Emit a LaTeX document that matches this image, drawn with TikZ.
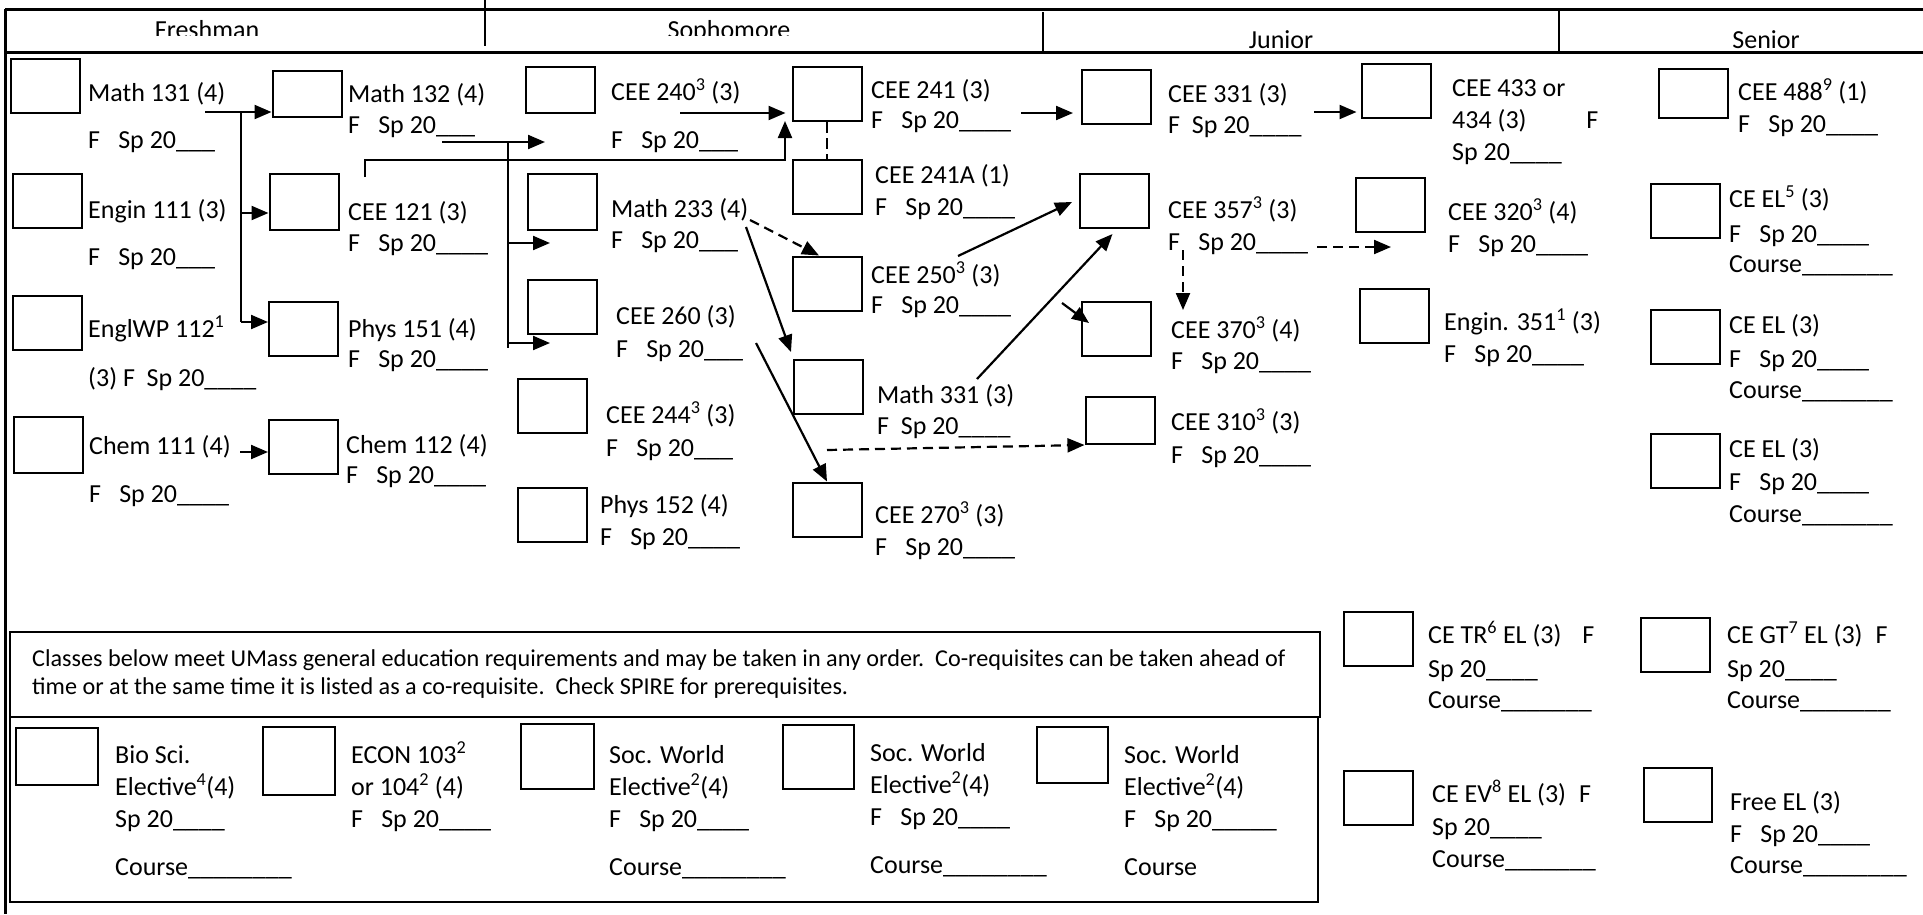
\documentclass[tikz,border=0pt]{standalone}
\usepackage{fontspec}
\setmainfont{Carlito}
\usetikzlibrary{arrows.meta}

\newcommand\crsfont{\fontsize{26}{32}\selectfont}
\newcommand\fsp{F\hspace{0.7em}Sp 20}
\newcommand\fspp{F\hspace{0.45em}Sp 20}

\begin{document}
\begin{tikzpicture}[
  x=1pt, y=-1pt,
  font=\crsfont,
  chk/.style={draw, line width=2pt, minimum width=69pt, minimum height=54pt, inner sep=0pt},
  crs/.style={anchor=base west, align=left, inner sep=0pt},
  arr/.style={-{Triangle[length=17pt,width=14pt]}, line width=2.2pt},
  dsh/.style={arr, dash pattern=on 10pt off 6pt}
]
\useasboundingbox (0,0) rectangle (1923,914);

% Header
\draw[line width=3pt] (5,9) -- (1923,9);
\draw[line width=3pt] (5,52) -- (1923,52);
\draw[line width=3pt] (5,9) -- (5,914);
\draw[line width=2.5pt] (485,0) -- (485,46);
\draw[line width=2.5pt] (1043,12) -- (1043,53);
\draw[line width=2.5pt] (1559,10) -- (1559,52);
\begin{scope}
  \clip (0,0) rectangle (1043,35);
  \node[anchor=base, inner sep=0pt] (hfr) at (207,38) {Freshman};
  \node[anchor=base, inner sep=0pt] (hso) at (729,38) {Sophomore};
\end{scope}
\node[anchor=base, inner sep=0pt] (hjr) at (1281,48) {Junior};
\node[anchor=base, inner sep=0pt] (hsr) at (1766,48) {Senior};

% Freshman (text nodes sit on their last baseline)
\node[chk] (b131) at (45.5,86) {};
\node[crs] (t131) at (88,148) {Math 131 (4)\\[15pt]\fsp\_\_\_};
\node[chk] (b111) at (47,201) {};
\node[crs] (t111) at (88,265) {Engin 111 (3)\\[15pt]\fsp\_\_\_};
\node[chk] (bwp) at (47,322.5) {};
\node[crs] (twp) at (88,386) {EnglWP 112\textsuperscript{1}\\[17pt](3) \fspp\_\_\_\_};
\node[chk, minimum height=56pt] (bch1) at (48.5,445) {};
\node[crs] (tch1) at (89,502) {Chem 111 (4)\\[16pt]\fsp\_\_\_\_};

\node[chk, minimum height=46pt] (b132) at (307,94) {};
\node[crs] (t132) at (348,133) {Math 132 (4)\\[-1pt]\fsp\_\_\_};
\node[chk, minimum height=56pt] (b121) at (304,202) {};
\node[crs] (t121) at (348,251) {CEE 121 (3)\\[-1pt]\fsp\_\_\_\_};
\node[chk] (bp151) at (303.5,328.5) {};
\node[crs] (tp151) at (348,367) {Phys 151 (4)\\[-2pt]\fsp\_\_\_\_};
\node[chk] (bch2) at (303.5,446.5) {};
\node[crs] (tch2) at (346,483) {Chem 112 (4)\\[-2pt]\fsp\_\_\_\_};

% Sophomore
\node[chk, minimum height=46pt] (b240) at (560.5,90) {};
\node[crs] (t240) at (611,148) {CEE 240\textsuperscript{3} (3)\\[16pt]\fsp\_\_\_};
\node[chk, minimum height=56pt] (b233) at (562.5,202) {};
\node[crs] (t233) at (611,248) {Math 233 (4)\\[-1pt]\fsp\_\_\_};
\node[chk] (b260) at (562.5,306.5) {};
\node[crs] (t260) at (616,357) {CEE 260 (3)\\[1pt]\fsp\_\_\_};
\node[chk] (b244) at (552.5,406) {};
\node[crs] (t244) at (606,456) {CEE 244\textsuperscript{3} (3)\\[1pt]\fsp\_\_\_};
\node[chk] (bp152) at (552.5,514.5) {};
\node[crs] (tp152) at (600,545) {Phys 152 (4)\\\fsp\_\_\_\_};

\node[chk] (b241) at (827,94) {};
\node[crs] (t241) at (871,128) {CEE 241 (3)\\[-2pt]\fsp\_\_\_\_};
\node[chk] (b241a) at (827,187) {};
\node[crs] (t241a) at (875,215) {CEE 241A (1)\\\fsp\_\_\_\_};
\node[chk] (b250) at (827,283.5) {};
\node[crs] (t250) at (871,313) {CEE 250\textsuperscript{3} (3)\\[-2pt]\fsp\_\_\_\_};
\node[chk] (bm331) at (828.5,387) {};
\node[crs] (tm331) at (877,434) {Math 331 (3)\\[-1pt]\fspp\_\_\_\_};
\node[chk] (b270) at (827,509.5) {};
\node[crs] (t270) at (875,555) {CEE 270\textsuperscript{3} (3)\\\fsp\_\_\_\_};

% Junior
\node[chk] (b331) at (1116.5,97) {};
\node[crs] (t331) at (1168,133) {CEE 331 (3)\\[-1pt]\fspp\_\_\_\_};
\node[chk] (b357) at (1114.5,201) {};
\node[crs] (t357) at (1168,250) {CEE 357\textsuperscript{3} (3)\\\fsp\_\_\_\_};
\node[chk] (b370) at (1116.5,329) {};
\node[crs] (t370) at (1171,369) {CEE 370\textsuperscript{3} (4)\\[-1pt]\fsp\_\_\_\_};
\node[chk, minimum height=47pt] (b310) at (1120,420.5) {};
\node[crs] (t310) at (1171,463) {CEE 310\textsuperscript{3} (3)\\[1pt]\fsp\_\_\_\_};

\node[chk] (b433) at (1396,90.5) {};
\node[crs] (t433) at (1452,160) {CEE 433 or\\434 (3)\hspace{2.3em}F\\Sp 20\_\_\_\_};
\node[chk] (b320) at (1390.5,205) {};
\node[crs] (t320) at (1448,252) {CEE 320\textsuperscript{3} (4)\\\fsp\_\_\_\_};
\node[chk] (b351) at (1394,315.5) {};
\node[crs] (t351) at (1444,362) {Engin. 351\textsuperscript{1} (3)\\\fsp\_\_\_\_};

% Senior
\node[chk, minimum height=49pt] (b488) at (1693.5,93.5) {};
\node[crs] (t488) at (1738,132) {CEE 488\textsuperscript{9} (1)\\\fsp\_\_\_\_};
\node[chk] (bel1) at (1685.5,211) {};
\node[crs] (tel1) at (1729,272) {CE EL\textsuperscript{5} (3)\\[3pt]\fsp\_\_\_\_\\[-2pt]Course\_\_\_\_\_\_\_};
\node[chk] (bel2) at (1685.5,337) {};
\node[crs] (tel2) at (1729,398) {CE EL (3)\\[2pt]\fsp\_\_\_\_\\[-1pt]Course\_\_\_\_\_\_\_};
\node[chk] (bel3) at (1685.5,461) {};
\node[crs] (tel3) at (1729,522) {CE EL (3)\\[1pt]\fsp\_\_\_\_\\Course\_\_\_\_\_\_\_};

\node[chk] (btr) at (1378.5,639) {};
\node[crs] (ttr) at (1428,708) {CE TR\textsuperscript{6} EL (3)\hspace{0.8em}F\\[2pt]Sp 20\_\_\_\_\\[-1pt]Course\_\_\_\_\_\_\_};
\node[chk] (bgt) at (1675.5,645) {};
\node[crs] (tgt) at (1727,708) {CE GT\textsuperscript{7} EL (3)\hspace{0.5em}F\\[2pt]Sp 20\_\_\_\_\\[-1pt]Course\_\_\_\_\_\_\_};
\node[chk] (bev) at (1378.5,798) {};
\node[crs] (tev) at (1432,867) {CE EV\textsuperscript{8} EL (3)\hspace{0.5em}F\\[1pt]Sp 20\_\_\_\_\\Course\_\_\_\_\_\_\_};
\node[chk, minimum width=68pt] (bfree) at (1678,795) {};
\node[crs] (tfree) at (1730,873) {Free EL (3)\\\fsp\_\_\_\_\\[-1pt]Course\_\_\_\_\_\_\_\_};

% Gen ed boxes
\draw[line width=2.5pt] (10,632) rectangle (1320,717);
\draw[line width=2.5pt] (10,717) rectangle (1318,902);
\node[crs, font=\fontsize{24.2}{28}\selectfont] (tnote) at (32,694) {Classes below meet UMass general education requirements and may be taken in any order.\ \ Co-requisites can be taken ahead of\\time or at the same time it is listed as a co-requisite.\ \ Check SPIRE for prerequisites.};

\node[chk, minimum width=81.5pt, minimum height=57pt] (bbio) at (57,756.5) {};
\node[crs] (tbio) at (115,875) {Bio Sci.\\Elective\textsuperscript{4}(4)\\Sp 20\_\_\_\_\\[16pt]Course\_\_\_\_\_\_\_\_};
\node[chk, minimum width=72pt, minimum height=68pt] (becon) at (299,761) {};
\node[crs] (tecon) at (351,827) {ECON 103\textsuperscript{2}\\or 104\textsuperscript{2} (4)\\\fsp\_\_\_\_};
\node[chk, minimum width=73pt, minimum height=65pt] (bsoc1) at (557.5,756.5) {};
\node[crs] (tsoc1) at (609,875) {Soc. World\\Elective\textsuperscript{2}(4)\\\fsp\_\_\_\_\\[16pt]Course\_\_\_\_\_\_\_\_};
\node[chk, minimum width=71pt, minimum height=64pt] (bsoc2) at (818.5,757) {};
\node[crs] (tsoc2) at (870,873) {Soc. World\\Elective\textsuperscript{2}(4)\\\fsp\_\_\_\_\\[16pt]Course\_\_\_\_\_\_\_\_};
\node[chk, minimum width=71pt, minimum height=56pt] (bsoc3) at (1072.5,755) {};
\node[crs] (tsoc3) at (1124,875) {Soc. World\\Elective\textsuperscript{2}(4)\\\fsp\_\_\_\_\_\\[16pt]Course};

% Arrow end points
\coordinate (a131) at (205,112);
\coordinate (fr1) at (241,112);
\coordinate (fr2) at (241,322);
\coordinate (fr3) at (241,213);
\coordinate (ach1) at (240,452);
\coordinate (so1) at (442,142);
\coordinate (so2) at (545,142);
\coordinate (so3) at (508,142);
\coordinate (so4) at (508,348);
\coordinate (so5) at (508,243);
\coordinate (so6) at (508,343);
\coordinate (t233in) at (550,243);
\coordinate (t260in) at (550,343);
\coordinate (a121) at (365,177);
\coordinate (bend) at (785,160);
\coordinate (a241in) at (785,121);
\coordinate (a240) at (680,113);
\coordinate (a233d) at (750,220);
\coordinate (a233s) at (746,227);
\coordinate (m331in) at (791,352);
\coordinate (a260) at (756,343);
\coordinate (a310) at (827,450);
\coordinate (a241) at (1021,113);
\coordinate (a331in) at (1073,113);
\coordinate (a250) at (958,256);
\coordinate (a357in) at (1072,202);
\coordinate (am331) at (977,379);
\coordinate (d1) at (1183,250);
\coordinate (d2) at (1183,310);
\coordinate (d3) at (1317,247);
\coordinate (d4) at (1391,247);
\coordinate (s1) at (1062,303);
\coordinate (s2) at (1089,323);
\coordinate (a331) at (1314,112);

% Arrows
\draw[arr] (a131) -- (a131 -| b132.west);
\draw[line width=2.2pt] (fr1) -- (fr2);
\draw[arr] (fr2) -- (fr2 -| bp151.west);
\draw[arr] (fr3) -- (fr3 -| b121.west);
\draw[arr] (ach1) -- (ach1 -| bch2.west);
\draw[arr] (so1) -- (so2);
\draw[line width=2.2pt] (so3) -- (so4);
\draw[arr] (so5) -- (t233in);
\draw[arr] (so6) -- (t260in);
\draw[arr] (a121) |- (bend) -- (a241in);
\draw[arr] (a240) -- ([xshift=-6pt]a240 -| b241.west);
\draw[line width=2.2pt, dash pattern=on 11pt off 5pt] (b241.south) -- (b241a.north);
\draw[dsh] (a233d) -- ([xshift=-8pt]b250.north);
\draw[arr] (a233s) -- (m331in);
\draw[arr] (a260) -- (b270.north);
\draw[dsh] (a310) -- (b310.south west);
\draw[arr] (a241) -- (a331in);
\draw[arr] (a250) -- (a357in);
\draw[arr] (am331) -- ([shift={(-2pt,-5pt)}]b357.south);
\draw[dsh] (d1) -- (d2);
\draw[dsh] (d3) -- (d4);
\draw[arr] (s1) -- (s2);
\draw[arr] (a331) -- ([xshift=-4pt]a331 -| b433.west);

\end{tikzpicture}
\end{document}
